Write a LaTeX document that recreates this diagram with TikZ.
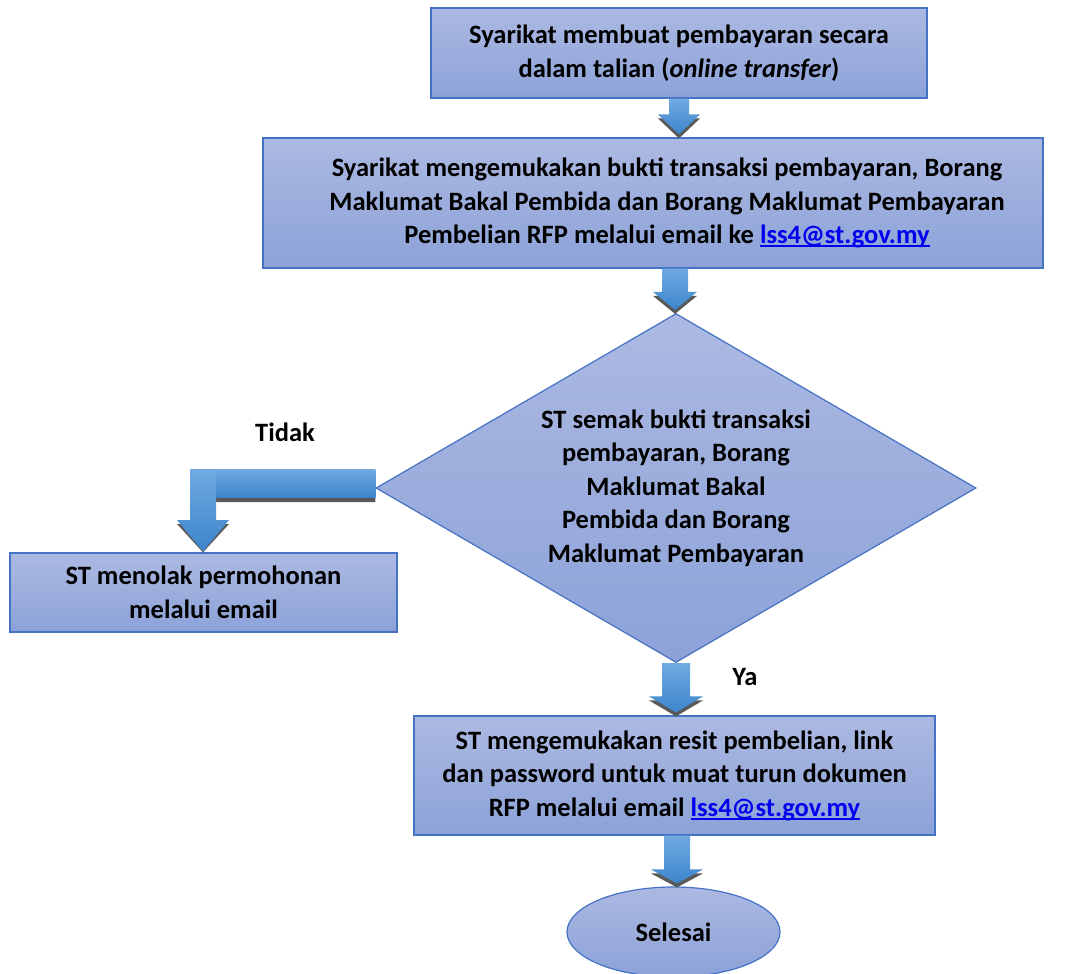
\documentclass[tikz,border=0pt]{standalone}
\usepackage{fontspec}
\setmainfont{Carlito}
\usetikzlibrary{shapes.geometric,calc}
\definecolor{boxtop}{RGB}{172,185,226}
\definecolor{boxbot}{RGB}{140,162,216}
\definecolor{boxline}{RGB}{68,114,196}
\definecolor{arrtop}{RGB}{112,170,225}
\definecolor{arrbot}{RGB}{60,133,204}
\definecolor{arrshadow}{RGB}{89,89,89}
\definecolor{linkblue}{RGB}{0,0,238}
\newcommand\linkul[1]{\setbox0\hbox{#1}\rlap{\rule[-3.5pt]{\wd0}{1.8pt}}\box0}
\newcommand\padl{\hspace*{28pt}}
% #1 x centre (pt), #2 from, #3 to, #4 shaft half, #5 head half, #6 head length
\newcommand\blockdown[6]{%
  \fill[arrshadow] let \p1=(#2), \p2=(#3) in
    (#1pt-#5pt,\y2+3pt+#6pt-4pt) -- (#1pt,\y2-1pt) -- (#1pt+#5pt,\y2+3pt+#6pt-4pt) -- cycle;
  \shade[top color=arrtop,bottom color=arrbot] let \p1=(#2), \p2=(#3) in
    (#1pt-#4pt,\y1) -- (#1pt-#4pt,\y2+3pt+#6pt) -- (#1pt-#5pt,\y2+3pt+#6pt)
    -- (#1pt,\y2+3pt) -- (#1pt+#5pt,\y2+3pt+#6pt) -- (#1pt+#4pt,\y2+3pt+#6pt)
    -- (#1pt+#4pt,\y1) -- cycle;}
\tikzset{
  base/.style={draw=boxline, line width=1.2pt, top color=boxtop, bottom color=boxbot,
    font=\fontsize{26.5}{33.5}\selectfont\bfseries, align=center, inner sep=0pt},
  procbox/.style={base, rectangle},
  decision/.style={base, diamond, aspect=1.714},
  terminal/.style={base, ellipse},
  lbl/.style={font=\fontsize{26.5}{30}\selectfont\bfseries, inner sep=0pt}
}
\begin{document}
\begin{tikzpicture}[x=1pt,y=-1pt]
\useasboundingbox (0,0) rectangle (1069,974);
\node[procbox, minimum width=496pt, minimum height=90pt] (b1) at (679,53)
  {Syarikat membuat pembayaran secara\\dalam talian (\textit{online transfer})};
\node[procbox, minimum width=780pt, minimum height=130pt] (b2) at (653,203)
  {\padl Syarikat mengemukakan bukti transaksi pembayaran, Borang\\\padl Maklumat Bakal Pembida dan Borang Maklumat Pembayaran\\\padl Pembelian RFP melalui email ke \textcolor{linkblue}{\linkul{lss4@st.gov.my}}};
\node[decision, minimum width=600pt, minimum height=349pt] (dia) at (676,488)
  {ST semak bukti transaksi\\pembayaran, Borang\\Maklumat Bakal\\Pembida dan Borang\\Maklumat Pembayaran};
\node[procbox, minimum width=387pt, minimum height=79pt] (b3) at (203.5,592.5)
  {ST menolak permohonan\\melalui email};
\node[procbox, minimum width=521pt, minimum height=119pt] (b4) at (674.5,775.5)
  {ST mengemukakan resit pembelian, link\\dan password untuk muat turun dokumen\\RFP melalui email \textcolor{linkblue}{\linkul{lss4@st.gov.my}}};
\node[terminal, minimum width=213pt, minimum height=90pt] (end) at (673.5,932) {Selesai};
\node[lbl] (tidak) at (285,432) {Tidak};
\node[lbl] (ya) at (745,677) {Ya};
% straight block arrows
\blockdown{679}{b1.south}{b2.north}{10}{21}{20}
\blockdown{675}{b2.south}{dia.north}{13}{22}{18}
\blockdown{676}{dia.south}{b4.north}{14}{27}{16}
\blockdown{677}{b4.south}{end.north}{13}{26}{14}
% elbow arrow from decision to b3
\fill[arrshadow] let \p1=(dia.west), \p2=(b3.north) in
  (216pt,-473pt) -- (216pt,-502pt) -- (\x1,-502pt) -- (\x1,-473pt) -- cycle
  (229pt,-524pt) -- (203pt,\y2) -- (177pt,-524pt) -- cycle;
\shade[top color=arrtop,bottom color=arrbot] let \p1=(dia.west), \p2=(b3.north) in
  (190pt,-469pt) -- (216pt,-469pt) -- (216pt,-520pt) -- (229pt,-520pt) -- (203pt,\y2+1pt)
  -- (177pt,-520pt) -- (190pt,-520pt) -- cycle;
\shade[top color=arrtop,bottom color=arrbot] let \p1=(dia.west) in
  (\x1,-469pt) -- (216pt,-469pt) -- (216pt,-497pt) -- (\x1,-497pt) -- cycle;
\end{tikzpicture}
\end{document}
